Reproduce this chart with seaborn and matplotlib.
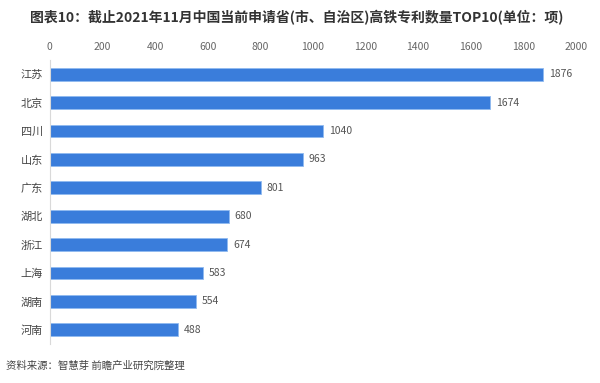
import matplotlib
matplotlib.use('Agg')
import matplotlib.pyplot as plt
import seaborn as sns
import pandas as pd

provinces = ['江苏', '北京', '四川', '山东', '广东', '湖北', '浙江', '上海', '湖南', '河南']
patents = [1876, 1674, 1040, 963, 801, 680, 674, 583, 554, 488]
x_ticks = [0, 200, 400, 600, 800, 1000, 1200, 1400, 1600, 1800, 2000]

title = '图表10：截止2021年11月中国当前申请省(市、自治区)高铁专利数量TOP10(单位：项)'
source = '资料来源：智慧芽 前瞻产业研究院整理'

sns.set_style('white')
plt.rcParams['font.family'] = ['Noto Sans CJK SC', 'DejaVu Sans']

df = pd.DataFrame({'province': provinces, 'patents': patents})

fig = plt.figure(figsize=(6, 3.83), dpi=100)
ax = fig.add_axes([0.083, 0.102, 0.877, 0.741])

sns.barplot(data=df, x='patents', y='province', color='#3a7ddb', width=0.45,
            edgecolor='#8fbaf0', linewidth=0.6, saturation=1, ax=ax)

for i, v in enumerate(patents):
    ax.text(v + 22, i, str(v), va='center', ha='left', fontsize=7.5, color='#555555')

ax.set_xlim(0, 2000)
ax.set_xticks(x_ticks)
ax.xaxis.tick_top()
ax.tick_params(axis='x', length=0, labelsize=7.5, labelcolor='#666666', pad=6)
ax.tick_params(axis='y', length=0, labelsize=8, labelcolor='#444444', pad=5)
ax.set_xlabel('')
ax.set_ylabel('')
for s in ['top', 'right', 'bottom']:
    ax.spines[s].set_visible(False)
ax.spines['left'].set_color('#d9d9d9')
ax.spines['left'].set_linewidth(0.8)

fig.text(0.495, 0.955, title, ha='center', va='center', fontsize=10,
         fontweight='bold', color='#333333')
fig.text(0.01, 0.045, source, ha='left', va='center', fontsize=7.5, color='#444444')

fig.savefig('out.png', dpi=100)
